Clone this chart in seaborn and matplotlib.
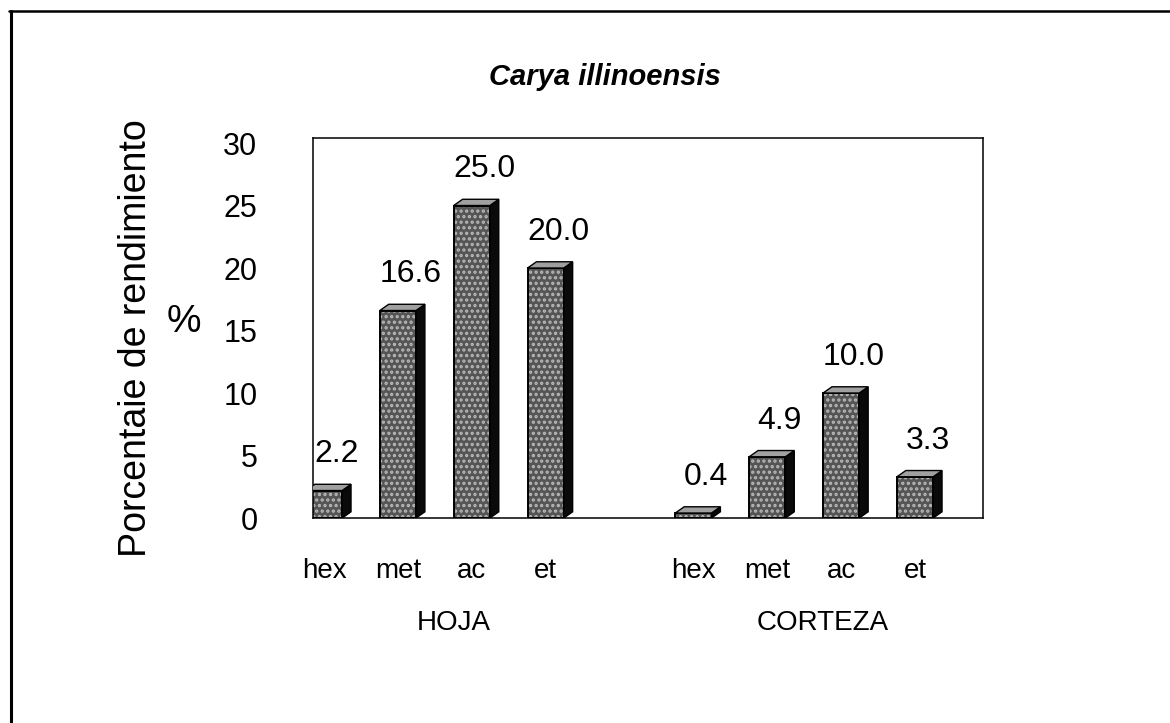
import numpy as np
import pandas as pd
import seaborn as sns
import matplotlib.pyplot as plt
from matplotlib.patches import Polygon, Rectangle
from matplotlib.lines import Line2D
import matplotlib.transforms as mtransforms

# data
titulo = "Carya illinoensis"
solventes = ["hex", "met", "ac", "et"]
grupos = ["HOJA", "CORTEZA"]
hoja = [2.2, 16.6, 25.0, 20.0]
corteza = [0.4, 4.9, 10.0, 3.3]
y_ticks = [0, 5, 10, 15, 20, 25, 30]

# long table, one gap slot between the two groups
rows = []
for g, vals in enumerate([hoja, corteza]):
    for i, (s, v) in enumerate(zip(solventes, vals)):
        rows.append({"grupo": grupos[g], "solvente": s, "pos": g * 5 + i, "valor": v})
df = pd.DataFrame(rows)

sns.set_style("white")
plt.rcParams["font.family"] = ["Liberation Sans", "DejaVu Sans"]
plt.rcParams["text.color"] = "black"
plt.rcParams["xtick.color"] = "black"
plt.rcParams["ytick.color"] = "black"
plt.rcParams["hatch.linewidth"] = 1.6

fig = plt.figure(figsize=(11.7, 7.23), dpi=100)
ax = fig.add_axes([0.2675, 0.2835, 0.5727, 0.5256])

sns.barplot(data=df, x="pos", y="valor", native_scale=True, width=0.49,
            color="#555555", ax=ax)

# fake 3D: speckled front, light top, black side
dx, dy = 0.12, 0.5
for p in list(ax.patches):
    x0, w, h = p.get_x(), p.get_width(), p.get_height()
    p.set_hatch("...")
    p.set_edgecolor("#b8b8b8")
    p.set_linewidth(0)
    ax.add_patch(Rectangle((x0, 0), w, h, fill=False, ec="black", lw=1.4, zorder=3))
    ax.add_patch(Polygon([(x0 + w, 0), (x0 + w + dx, dy), (x0 + w + dx, h + dy), (x0 + w, h)],
                         closed=True, fc="#0a0a0a", ec="black", lw=1, zorder=3))
    ax.add_patch(Polygon([(x0, h), (x0 + w, h), (x0 + w + dx, h + dy), (x0 + dx, h + dy)],
                         closed=True, fc="#a0a0a0", ec="black", lw=1, zorder=3))

# value labels
for _, r in df.iterrows():
    ax.annotate(f"{r['valor']:.1f}", (r["pos"], r["valor"]), xytext=(9, 26),
                textcoords="offset points", ha="center", va="center", fontsize=23)

ax.set_xlim(-0.15, 8.92)
ax.set_ylim(0, 30.4)
ax.set_yticks(y_ticks)
ax.set_yticklabels([str(t) for t in y_ticks], fontsize=22)
ax.set_xticks(df["pos"])
ax.set_xticklabels(df["solvente"], fontsize=20)
ax.tick_params(axis="y", length=0, pad=40)
ax.tick_params(axis="x", length=0, pad=29)
ax.set_xlabel("")
ax.set_ylabel("")
for sp in ax.spines.values():
    sp.set_visible(True)
    sp.set_color("black")
    sp.set_linewidth(1.1)

# group names under the solvent labels
trans = mtransforms.blended_transform_factory(ax.transData, ax.transAxes)
for g, name in enumerate(grupos):
    xc = df.loc[df["grupo"] == name, "pos"].mean() + 0.25
    ax.text(xc, -0.276, name, transform=trans, ha="center", va="center", fontsize=20)

fig.text(605 / 1170, 1 - 77 / 723, titulo, ha="center", va="center",
         fontsize=21, fontweight="bold", fontstyle="italic")
fig.text(136 / 1170, 1 - 338 / 723, "Porcentaie de rendimiento", rotation=90,
         ha="center", va="center", fontsize=27)
fig.text(184 / 1170, 1 - 322 / 723, "%", ha="center", va="center", fontsize=28)

# outer frame (top and left edges of the scanned box)
fig.add_artist(Line2D([9 / 1170, 1.0], [1 - 11 / 723, 1 - 11 / 723], color="black", lw=1.8))
fig.add_artist(Line2D([11 / 1170, 11 / 1170], [0.0, 1 - 11 / 723], color="black", lw=2.2))

fig.savefig("out.png", dpi=100)
plt.close(fig)
